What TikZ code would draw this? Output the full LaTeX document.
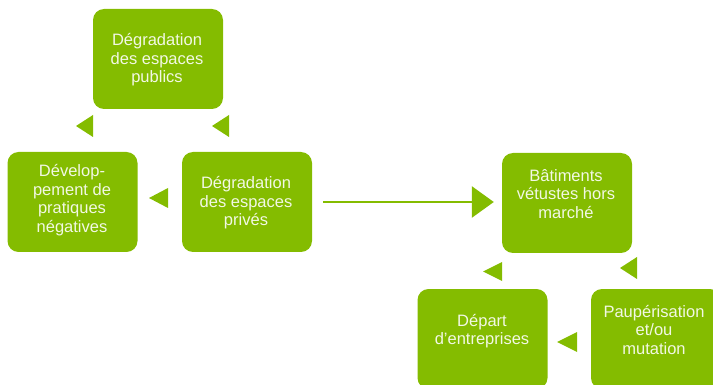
\documentclass[tikz,border=0pt]{standalone}
\usepackage{fontspec}
\setmainfont{Liberation Sans}
\usetikzlibrary{arrows.meta}
\definecolor{vert}{HTML}{84BC00}
\definecolor{txtc}{HTML}{F2F8E4}
\tikzset{
  box/.style={fill=vert, rounded corners=11pt, minimum width=130pt, minimum height=100pt, inner sep=0pt},
  txt/.style={text=txtc, align=center, font=\fontsize{16.5}{18.6}\selectfont, inner sep=0pt},
  tri/.style={fill=vert},
  link/.style={draw=vert, line width=2.8pt, -{Triangle[length=22pt,width=31pt]}}
}
\begin{document}
\begin{tikzpicture}[x=1pt,y=-1pt]
\useasboundingbox (0,0) rectangle (713,385);
\clip (0,0) rectangle (713,385);
% boxes
\node[box] (b1) at (158,59) {};
\node[box] (b2) at (72.5,202) {};
\node[box] (b3) at (247,202) {};
\node[box] (b4) at (567,203) {};
\node[box] (b5) at (482.5,339) {};
\node[box] (b6) at (656,339) {};
% texts
\node[txt] (t1) at (157,60) {Dégradation\\des espaces\\publics};
\node[txt] (t2) at (72,200) {Dévelop-\\pement de\\pratiques\\négatives};
\node[txt] (t3) at (246,203) {Dégradation\\des espaces\\privés};
\node[txt] (t4) at (566,194) {Bâtiments\\vétustes hors\\marché};
\node[txt] (t5) at (482,331) {Départ\\d’entreprises};
\node[txt] (t6) at (654,330) {Paupérisation\\et/ou\\mutation};
% connector
\draw[link, shorten <=11pt, shorten >=8pt] (b3.east) -- (b3.east -| b4.west);
% triangles
\fill[tri] (76,126) -- (93,115) -- (93,137) -- cycle;
\fill[tri] (212,126) -- (229,115) -- (229,137) -- cycle;
\fill[tri] (149,198) -- (168,188) -- (168,208) -- cycle;
\fill[tri] (483,271.5) -- (502,262) -- (502,281) -- cycle;
\fill[tri] (620,268) -- (637,257) -- (637,279) -- cycle;
\fill[tri] (557,342) -- (577,332) -- (577,352) -- cycle;
\end{tikzpicture}
\end{document}
